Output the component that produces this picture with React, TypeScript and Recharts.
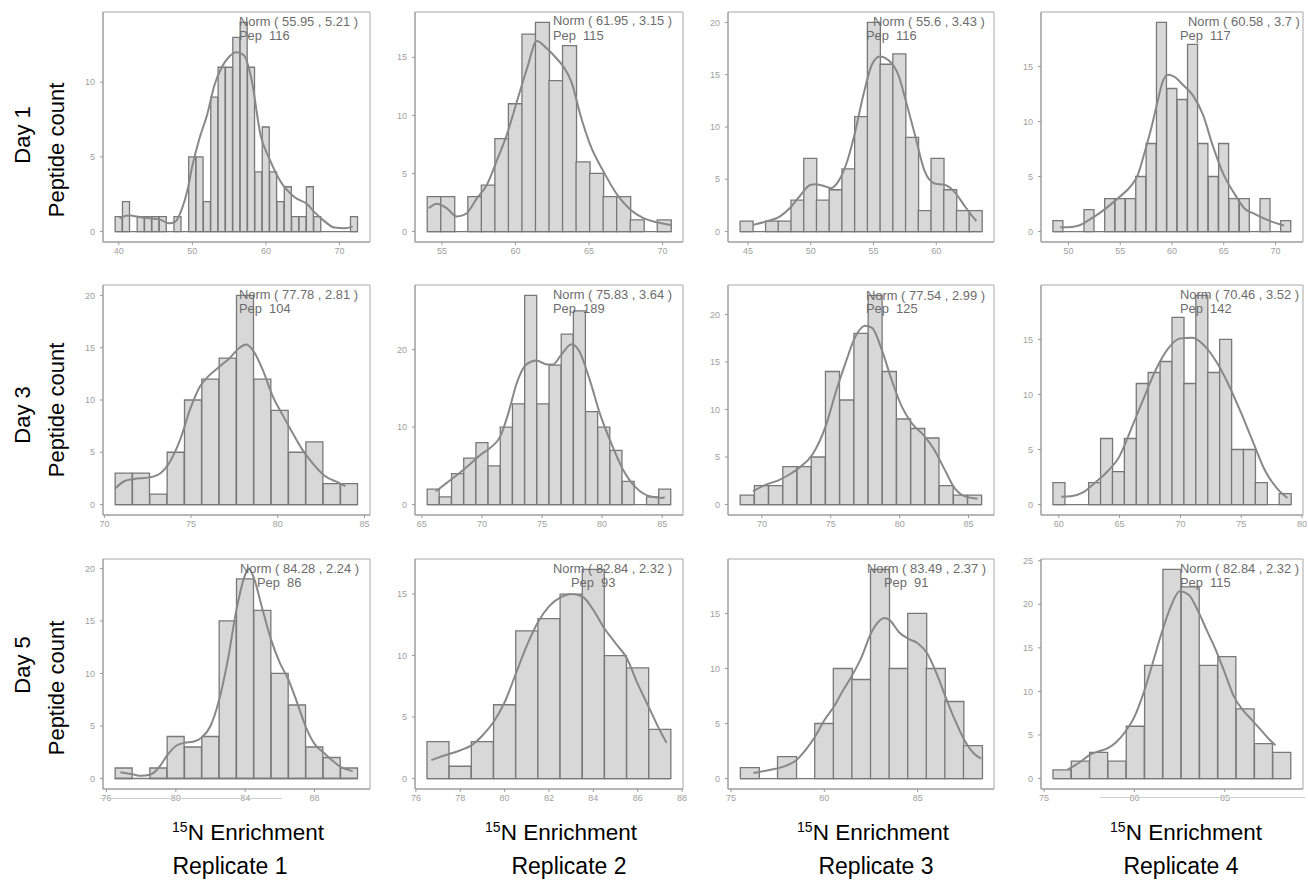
import React from 'react';
import { ComposedChart, Bar, Line, XAxis, YAxis, ReferenceArea, ReferenceLine } from 'recharts';

// histogram bin counts (peptides per 15N enrichment bin)
const day1Rep1Counts = [1, 2, 0, 1, 1, 1, 1, 0, 1, 0, 5, 5, 2, 9, 11, 11, 13, 14, 11, 4, 7, 4, 2, 3, 1, 1, 3, 1, 0, 0, 0, 0, 1];
const day1Rep2Counts = [3, 3, 0, 3, 4, 8, 11, 17, 18, 13, 16, 6, 5, 3, 3, 1, 0, 1];
const day1Rep3Counts = [1, 0, 1, 1, 3, 7, 3, 4, 6, 11, 20, 16, 17, 9, 2, 7, 4, 2, 2];
const day1Rep4Counts = [1, 0, 0, 2, 0, 3, 3, 3, 5, 8, 19, 13, 12, 17, 8, 5, 8, 3, 3, 0, 3, 0, 1];
const day3Rep1Counts = [3, 3, 1, 5, 10, 12, 14, 20, 12, 9, 5, 6, 2, 2];
const day3Rep2Counts = [2, 1, 4, 6, 8, 5, 10, 13, 27, 13, 18, 22, 25, 12, 10, 7, 3, 0, 1, 2];
const day3Rep3Counts = [1, 2, 2, 4, 4, 5, 14, 11, 18, 22, 14, 9, 8, 7, 2, 1, 1];
const day3Rep4Counts = [2, 0, 0, 2, 6, 3, 6, 11, 12, 13, 17, 11, 19, 12, 15, 5, 5, 2, 0, 1];
const day5Rep1Counts = [1, 0, 1, 4, 3, 4, 15, 19, 16, 10, 7, 3, 2, 1];
const day5Rep2Counts = [3, 1, 3, 6, 12, 13, 15, 17, 10, 9, 4];
const day5Rep3Counts = [1, 0, 2, 0, 5, 10, 9, 19, 10, 15, 10, 7, 3];
const day5Rep4Counts = [1, 2, 3, 2, 6, 13, 24, 22, 13, 14, 8, 4, 3];

// centre of the first bin and bin width, per panel
const binStarts = [40, 54.46, 44.88, 49, 71.12, 65.95, 68.94, 60.01, 77, 77, 76, 76];
const binWidths = [1, 0.92, 1.014, 1, 1, 1.014, 1.032, 0.979, 1, 1, 0.996, 1.013];

// density curves [enrichment, count-scaled density]
const day1Rep1Density = [[40.1, 0.9], [41, 1.05], [41.6, 1.07], [42.5, 1.0], [43.9, 0.9], [45, 0.85], [45.7, 0.78], [46.8, 0.55], [47.7, 0.67], [48.6, 1.55], [49.3, 2.7], [50, 4.4], [51, 6.3], [52, 7.8], [53, 9.8], [54, 11.0], [55, 11.7], [56, 12.0], [57, 11.8], [58, 10.3], [59.3, 6.4], [60.45, 4.9], [62.05, 3.3], [63.9, 2.3], [65.7, 1.8], [66.6, 1.3], [67.95, 0.7], [69.3, 0.27], [70.7, 0.22], [71.8, 0.33]];
const day1Rep2Density = [[54.1, 2.0], [54.66, 2.4], [55.34, 2.0], [56.0, 1.3], [56.6, 1.5], [57.4, 2.9], [58.05, 4.0], [58.7, 6.0], [59.4, 8.3], [60.1, 11.2], [60.8, 14.1], [61.45, 16.4], [62.1, 15.8], [62.8, 14.9], [63.26, 14.2], [63.8, 12.9], [64.4, 10.1], [65.07, 7.5], [65.97, 5.2], [66.9, 3.2], [67.8, 1.9], [68.7, 1.15], [69.6, 0.8], [70.57, 0.57]];
const day1Rep3Density = [[45.4, 0.64], [46.45, 0.96], [47.5, 1.4], [48.3, 2.2], [49.1, 3.35], [50.0, 4.47], [50.4, 4.53], [51.2, 4.3], [51.6, 4.15], [52.2, 4.8], [52.9, 6.7], [53.55, 9.6], [54.2, 13.1], [54.87, 15.95], [55.5, 16.75], [56.18, 16.4], [56.97, 15.0], [57.6, 12.4], [58.3, 9.25], [59.1, 5.7], [59.87, 4.6], [60.66, 4.47], [61.45, 3.8], [62.2, 2.55], [63.0, 1.28], [63.2, 1.0]];
const day1Rep4Density = [[49.2, 0.4], [50, 0.4], [51, 0.55], [52, 1.06], [53, 1.67], [54, 2.4], [55, 3.2], [56, 4.1], [56.7, 5.15], [57.3, 7.0], [58, 9.4], [58.6, 11.8], [59.06, 13.5], [59.6, 14.24], [60.16, 14.1], [61.1, 13.3], [62.0, 12.4], [63.0, 10.6], [63.9, 7.9], [65, 5.15], [66.1, 3.33], [67.0, 2.1], [68.0, 1.6], [69.2, 1.06], [70.8, 0.55]];
const day3Rep1Density = [[70.63, 1.53], [71.14, 2.23], [71.71, 2.45], [72.6, 2.6], [73.23, 3.0], [73.8, 4.15], [74.37, 6.2], [74.94, 9.1], [75.51, 11.3], [76.08, 12.4], [76.65, 13.2], [77.22, 14.0], [77.8, 15.0], [78.17, 15.3], [78.55, 14.8], [79.13, 12.9], [79.7, 10.4], [80.27, 8.6], [80.84, 6.9], [81.4, 5.3], [81.98, 4.0], [82.74, 2.7], [83.5, 2.1], [83.9, 1.75]];
const day3Rep2Density = [[66.16, 1.7], [67.07, 2.8], [68.0, 3.9], [69.0, 5.2], [69.9, 6.45], [70.67, 7.3], [71.53, 8.8], [72.2, 11.8], [72.9, 15.7], [73.7, 18.1], [74.54, 18.6], [75.37, 18.1], [75.93, 18.1], [76.6, 19.35], [77.45, 20.7], [78.1, 19.8], [78.97, 16.1], [79.8, 11.8], [80.63, 8.4], [81.74, 4.5], [82.84, 2.15], [83.95, 1.08], [85.05, 0.86], [85.2, 1.0]];
const day3Rep3Density = [[69.35, 1.4], [70.3, 2.1], [71.27, 2.6], [72.0, 3.16], [72.7, 3.86], [73.67, 5.26], [74.63, 8.25], [75.35, 11.75], [76.07, 14.9], [76.8, 17.7], [77.5, 18.8], [78.0, 18.6], [78.7, 16.3], [79.4, 13.2], [80.14, 10.35], [80.86, 8.6], [81.8, 7.2], [82.5, 5.8], [83.26, 3.7], [83.98, 1.75], [84.7, 0.88], [85.66, 0.6]];
const day3Rep4Density = [[60.2, 0.7], [61, 0.75], [62, 1.1], [63, 2.0], [64, 3.0], [65, 4.4], [66, 7.0], [67, 9.7], [68, 12.3], [69, 14.2], [70, 15.1], [71, 15.15], [72, 14.4], [73, 12.9], [74, 10.8], [75, 8.3], [76, 5.6], [77, 3.0], [78, 1.4], [78.8, 0.6]];
const day5Rep1Density = [[76.8, 0.6], [77.5, 0.4], [78, 0.25], [78.5, 0.35], [79, 1.0], [79.5, 2.2], [80, 3.1], [80.5, 3.4], [81, 3.5], [81.5, 3.9], [82, 5.0], [82.5, 7.5], [83, 11.3], [83.5, 16.1], [84, 19.4], [84.2, 20.0], [84.5, 19.1], [85, 16.1], [85.5, 13.2], [86, 11.0], [86.5, 9.4], [87, 7.2], [87.5, 4.9], [88, 3.3], [88.5, 2.5], [89, 1.75], [89.5, 1.1], [90, 0.8], [90.2, 0.7]];
const day5Rep2Density = [[76.7, 1.5], [77, 1.7], [78, 2.3], [78.5, 2.7], [79, 3.5], [79.5, 4.6], [80, 6.2], [80.5, 8.5], [81, 10.8], [81.5, 12.7], [82, 14.0], [82.5, 14.7], [83, 15.0], [83.5, 14.8], [84, 13.7], [84.5, 12.2], [85, 11.0], [85.5, 9.8], [86, 7.7], [86.5, 5.8], [87, 3.9], [87.3, 2.9]];
const day5Rep3Density = [[76.2, 0.5], [77, 0.76], [78, 1.2], [78.5, 1.67], [79, 2.6], [79.5, 3.8], [80, 5.3], [80.5, 6.5], [81, 8.0], [81.5, 9.4], [82, 11.06], [82.5, 13.2], [83, 14.4], [83.2, 14.6], [83.5, 14.4], [84, 13.3], [84.5, 12.7], [85, 12.3], [85.5, 11.4], [86, 9.6], [86.5, 7.4], [87, 5.3], [87.5, 3.5], [88, 2.3], [88.4, 1.8]];
const day5Rep4Density = [[76.3, 1.03], [77, 1.9], [77.5, 2.7], [78, 3.1], [78.5, 3.45], [79, 4.2], [79.5, 5.4], [80, 7.1], [80.5, 9.8], [81, 13.2], [81.5, 16.7], [82, 19.7], [82.5, 21.5], [83, 21.1], [83.5, 19.3], [84, 17.0], [84.5, 14.75], [85, 12.1], [85.5, 9.4], [86, 7.85], [86.5, 6.7], [87, 5.56], [87.5, 4.4], [87.8, 3.83]];

// axis ranges and tick labels
const xDomains = [[37.85, 74.15], [53.17, 71.39], [43.41, 64.6], [47.35, 72.65], [69.92, 85.32], [64.43, 86.73], [67.54, 86.85], [58.54, 80.08], [75.8, 91.2], [75.96, 88.04], [74.84, 89.09], [74.83, 89.32]];
const yDomains = [[-0.7, 14.7], [-0.9, 18.9], [-1, 21], [-0.95, 19.95], [-1, 21], [-1.35, 28.35], [-1.1, 23.1], [-0.95, 19.95], [-1, 20.9], [-0.85, 17.85], [-0.95, 19.95], [-1.2, 25.2]];
const xTicks = [[40, 50, 60, 70], [55, 60, 65, 70], [45, 50, 55, 60], [50, 55, 60, 65, 70], [70, 75, 80, 85], [65, 70, 75, 80, 85], [70, 75, 80, 85], [60, 65, 70, 75, 80], [76, 80, 84, 88], [76, 78, 80, 82, 84, 86, 88], [75, 80, 85], [75, 80, 85]];
const yTicks = [[0, 5, 10], [0, 5, 10, 15], [0, 5, 10, 15, 20], [0, 5, 10, 15], [0, 5, 10, 15, 20], [0, 10, 20], [0, 5, 10, 15, 20], [0, 5, 10, 15], [0, 5, 10, 15, 20], [0, 5, 10, 15], [0, 5, 10, 15], [0, 5, 10, 15, 20, 25]];

const normLabels = ['Norm ( 55.95 , 5.21 )', 'Norm ( 61.95 , 3.15 )', 'Norm ( 55.6 , 3.43 )', 'Norm ( 60.58 , 3.7 )', 'Norm ( 77.78 , 2.81 )', 'Norm ( 75.83 , 3.64 )', 'Norm ( 77.54 , 2.99 )', 'Norm ( 70.46 , 3.52 )', 'Norm ( 84.28 , 2.24 )', 'Norm ( 82.84 , 2.32 )', 'Norm ( 83.49 , 2.37 )', 'Norm ( 82.84 , 2.32 )'];
const pepLabels = ['Pep  116', 'Pep  115', 'Pep  116', 'Pep  117', 'Pep  104', 'Pep  189', 'Pep  125', 'Pep  142', 'Pep  86', 'Pep  93', 'Pep  91', 'Pep  115'];
const dayLabels = ['Day 1', 'Day 3', 'Day 5'];
const replicateLabels = ['Replicate 1', 'Replicate 2', 'Replicate 3', 'Replicate 4'];

const counts = [day1Rep1Counts, day1Rep2Counts, day1Rep3Counts, day1Rep4Counts, day3Rep1Counts, day3Rep2Counts, day3Rep3Counts, day3Rep4Counts, day5Rep1Counts, day5Rep2Counts, day5Rep3Counts, day5Rep4Counts];
const densities = [day1Rep1Density, day1Rep2Density, day1Rep3Density, day1Rep4Density, day3Rep1Density, day3Rep2Density, day3Rep3Density, day3Rep4Density, day5Rep1Density, day5Rep2Density, day5Rep3Density, day5Rep4Density];

// page layout (px)
const colLeft = [103, 415, 728, 1041];
const colWidth = [267, 268, 266, 262];
const rowTop = [12, 285, 559];
const plotH = 230;
// [norm x, pep x, norm centre y, pep centre y]
const notePos = [
  [239, 239, 21.7, 35.7], [553, 553, 21, 35.7], [873, 866, 21.7, 35.7], [1188, 1180, 21.7, 35.7],
  [239, 239, 295, 309.3], [553, 553, 295, 309.3], [866, 866, 296, 309.3], [1180, 1180, 295, 309.3],
  [240, 257, 569, 583.3], [553, 571, 569, 583.3], [867, 884, 569, 583.3], [1180, 1180, 569, 583.3],
];

const font = '"Liberation Sans", Arial, Helvetica, sans-serif';
const Y_W = 34;
const M_TOP = 4;
const M_RIGHT = 8;
const X_H = 22;

function Panel({ idx }: { idx: number }) {
  const row = Math.floor(idx / 4);
  const col = idx % 4;
  const w = binWidths[idx];
  const bins = counts[idx].map((n, i) => ({ x: binStarts[idx] + i * w, n }));
  const dens = densities[idx].map(([x, y]) => ({ x, y }));
  const lo = bins[0].x - w / 2;
  const hi = bins[bins.length - 1].x + w / 2;
  const xd = xDomains[idx];
  const yd = yDomains[idx];
  const pw = colWidth[col];
  const tickStyle = { fill: '#a0a0a0', fontSize: 9, fontFamily: font };
  return (
    <div style={{ position: 'absolute', left: colLeft[col] - Y_W, top: rowTop[row] - M_TOP }}>
      <ComposedChart
        width={Y_W + pw + M_RIGHT}
        height={M_TOP + plotH + X_H}
        data={bins}
        margin={{ top: M_TOP, right: M_RIGHT, bottom: 0, left: 0 }}
        barCategoryGap={0}
        barGap={0}
      >
        <XAxis dataKey="x" type="number" domain={xd} ticks={xTicks[idx]} interval={0} allowDataOverflow
          height={X_H} tickSize={3} tickMargin={3} stroke="#9a9a9a" tick={tickStyle} />
        <XAxis xAxisId="d" dataKey="x" type="number" domain={xd} allowDataOverflow hide />
        <YAxis type="number" domain={yd} ticks={yTicks[idx]} interval={0} allowDataOverflow
          width={Y_W} tickSize={3} tickMargin={5} stroke="#9a9a9a" tick={tickStyle} />
        <ReferenceArea xAxisId="d" x1={xd[0]} x2={xd[1]} y1={yd[0]} y2={yd[1]}
          fill="none" stroke="#a8a8a8" strokeWidth={1} ifOverflow="visible" />
        <Bar dataKey="n" fill="#d8d8d8" stroke="#787878" strokeWidth={1.3} isAnimationActive={false} />
        <ReferenceLine xAxisId="d" segment={[{ x: lo, y: 0 }, { x: hi, y: 0 }]} stroke="#787878" strokeWidth={1.3} ifOverflow="visible" />
        <Line xAxisId="d" data={dens} dataKey="y" type="monotone" stroke="#888888" strokeWidth={2}
          dot={false} activeDot={false} isAnimationActive={false} />
      </ComposedChart>
    </div>
  );
}

const noteStyle: React.CSSProperties = {
  position: 'absolute', fontFamily: font, fontSize: 12.9, lineHeight: '14px',
  color: '#6c6c6c', whiteSpace: 'pre',
};

const bigText: React.CSSProperties = {
  position: 'absolute', fontFamily: font, fontSize: 22, lineHeight: '26px',
  color: '#000', whiteSpace: 'nowrap', transform: 'translate(-50%, -50%)',
};

export default function App() {
  return (
    <div style={{ position: 'absolute', left: 0, top: 0, width: 1308, height: 888, background: '#fff', overflow: 'hidden' }}>
      {counts.map((_, i) => <Panel key={i} idx={i} />)}

      {normLabels.map((t, i) => (
        <div key={'n' + i} style={{ ...noteStyle, left: notePos[i][0], top: notePos[i][2] - 7 }}>{t}</div>
      ))}
      {pepLabels.map((t, i) => (
        <div key={'p' + i} style={{ ...noteStyle, left: notePos[i][1], top: notePos[i][3] - 7 }}>{t}</div>
      ))}

      {dayLabels.map((t, r) => (
        <React.Fragment key={t}>
          <div style={{ ...bigText, left: 23, top: [135, 415, 665][r], transform: 'translate(-50%, -50%) rotate(-90deg)' }}>{t}</div>
          <div style={{ ...bigText, left: 57, top: [150, 410, 688][r], transform: 'translate(-50%, -50%) rotate(-90deg)' }}>Peptide count</div>
        </React.Fragment>
      ))}

      {replicateLabels.map((t, c) => (
        <React.Fragment key={t}>
          <div style={{ ...bigText, fontSize: 22.5, left: [248, 561, 873, 1186][c], top: 833 }}>
            <sup style={{ fontSize: 14, verticalAlign: 'super', lineHeight: 0 }}>15</sup>N Enrichment
          </div>
          <div style={{ ...bigText, fontSize: 23, left: [230, 569, 876, 1181][c], top: 866 }}>{t}</div>
        </React.Fragment>
      ))}

      <div style={{ position: 'absolute', left: 100, top: 798, width: 182, height: 1, background: '#cfcfcf' }} />
      <div style={{ position: 'absolute', left: 1100, top: 797, width: 205, height: 1, background: '#cfcfcf' }} />
    </div>
  );
}
